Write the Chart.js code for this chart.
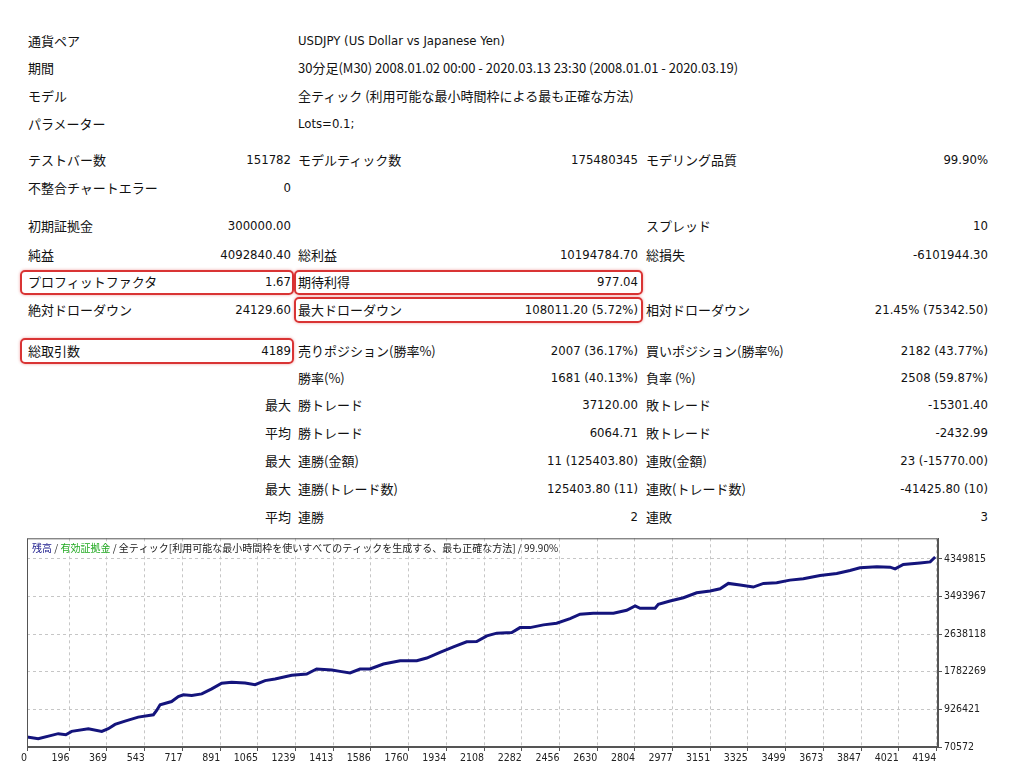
<!DOCTYPE html>
<html lang="ja">
<head>
<meta charset="utf-8">
<title>ストラテジーテスター レポート</title>
<script src="https://cdn.jsdelivr.net/npm/chart.js@4.4.0/dist/chart.umd.min.js"></script>
<style>
  html, body { margin: 0; padding: 0; background: #fff; }
  body {
    width: 1024px; height: 776px; position: relative; overflow: hidden;
    font-family: "DejaVu Sans Condensed", "DejaVu Sans", "Noto Sans CJK JP", sans-serif;
    color: #111;
  }
  .t { position: absolute; line-height: 18px; height: 18px; white-space: nowrap; font-size: 13px; }
  .jp { font-family: "Noto Sans CJK JP", sans-serif; font-size: 13px; }
  .box {
    position: absolute; box-sizing: border-box;
    border: 2px solid #d93434; border-radius: 5px;
    box-shadow: 0 0 3px rgba(220, 40, 40, .45);
  }
  #chartWrap { position: absolute; left: 0; top: 530px; width: 1024px; height: 246px; }
</style>
</head>
<body>
<div id="report"></div>
<div id="chartWrap"><canvas id="balanceChart"></canvas></div>

<script>
// ### dados do grafico (numero da operacao -> saldo)
const xTicks = [0, 196, 369, 543, 717, 891, 1065, 1239, 1413, 1586, 1760, 1934, 2108,
  2282, 2456, 2630, 2804, 2977, 3151, 3325, 3499, 3673, 3847, 4021, 4194];
const yTicks = [70572, 926421, 1782269, 2638118, 3493967, 4349815];

const tradeNo = [0, 52, 144, 179, 206, 283, 345, 375, 406, 452, 513, 583, 598, 614, 667,
  698, 721, 760, 806, 852, 898, 944, 1006, 1052, 1098, 1144, 1221, 1290, 1336, 1406,
  1444, 1490, 1536, 1582, 1644, 1721, 1798, 1844, 1905, 1967, 2028, 2074, 2121, 2167,
  2236, 2274, 2320, 2382, 2443, 2505, 2551, 2612, 2705, 2766, 2805, 2828, 2897, 2912,
  2966, 3028, 3089, 3151, 3197, 3235, 3289, 3350, 3397, 3458, 3519, 3581, 3658, 3735,
  3796, 3842, 3920, 3981, 4004, 4042, 4119, 4166, 4189];
const balance = [300000, 261000, 374000, 350000, 426000, 487000, 426000, 487000, 584000,
  659000, 750000, 804000, 901000, 1030000, 1105000, 1218000, 1257000, 1241000, 1279000,
  1393000, 1520000, 1542000, 1528000, 1490000, 1581000, 1619000, 1701000, 1732000,
  1845000, 1823000, 1791000, 1755000, 1845000, 1845000, 1959000, 2033000, 2033000,
  2095000, 2221000, 2350000, 2464000, 2470000, 2599000, 2661000, 2674000, 2787000,
  2787000, 2849000, 2887000, 2992000, 3091000, 3113000, 3113000, 3181000, 3279000,
  3227000, 3227000, 3317000, 3392000, 3466000, 3580000, 3618000, 3670000, 3792000,
  3754000, 3709000, 3792000, 3806000, 3867000, 3897000, 3974000, 4019000, 4087000,
  4146000, 4169000, 4162000, 4123000, 4223000, 4259000, 4282000, 4392840];

const captionParts = ['残高', ' / ', '有効証拠金',
  ' / 全ティック[利用可能な最小時間枠を使いすべてのティックを生成する、最も正確な方法] / 99.90%'];
const captionColors = ['#1a1a8c', '#333', '#22aa22', '#222'];

// ### texto do relatorio
const headerRows = [
  ['通貨ペア', 'USDJPY (US Dollar vs Japanese Yen)'],
  ['期間', '30分足(M30) 2008.01.02 00:00 - 2020.03.13 23:30 (2008.01.01 - 2020.03.19)'],
  ['モデル', '全ティック (利用可能な最小時間枠による最も正確な方法)'],
  ['パラメーター', 'Lots=0.1;']
];
const statRows = [
  ['テストバー数', '151782', 'モデルティック数', '175480345', 'モデリング品質', '99.90%'],
  ['不整合チャートエラー', '0', '', '', '', ''],
  ['初期証拠金', '300000.00', '', '', 'スプレッド', '10'],
  ['純益', '4092840.40', '総利益', '10194784.70', '総損失', '-6101944.30'],
  ['プロフィットファクタ', '1.67', '期待利得', '977.04', '', ''],
  ['絶対ドローダウン', '24129.60', '最大ドローダウン', '108011.20 (5.72%)', '相対ドローダウン', '21.45% (75342.50)'],
  ['総取引数', '4189', '売りポジション(勝率%)', '2007 (36.17%)', '買いポジション(勝率%)', '2182 (43.77%)'],
  ['', '', '勝率(%)', '1681 (40.13%)', '負率 (%)', '2508 (59.87%)'],
  ['', '最大', '勝トレード', '37120.00', '敗トレード', '-15301.40'],
  ['', '平均', '勝トレード', '6064.71', '敗トレード', '-2432.99'],
  ['', '最大', '連勝(金額)', '11 (125403.80)', '連敗(金額)', '23 (-15770.00)'],
  ['', '最大', '連勝(トレード数)', '125403.80 (11)', '連敗(トレード数)', '-41425.80 (10)'],
  ['', '平均', '連勝', '2', '連敗', '3']
];

// ### layout do relatorio
const headerY = [41, 68, 96, 124];
const statY = [160, 188, 226, 255, 282, 310, 351, 378, 405, 433, 461, 489, 517];
const colLeft = [28, 298, 646];     // inicio dos rotulos
const colRight = [291, 638, 988];   // fim dos valores
const boxes = [[20, 270, 274, 25], [294, 270, 349, 25], [294, 297, 349, 26], [20, 338, 274, 26]];

const report = document.getElementById('report');

function addText(txt, y, left, right) {
  if (!txt) return;
  const d = document.createElement('div');
  d.className = /[^\x00-\x7F]/.test(txt) ? 't jp' : 't';
  d.textContent = txt;
  d.style.top = (y - 9) + 'px';
  if (left != null) d.style.left = left + 'px';
  else d.style.right = (1024 - right) + 'px';
  report.appendChild(d);
}

headerRows.forEach((r, i) => {
  addText(r[0], headerY[i], colLeft[0]);
  addText(r[1], headerY[i], colLeft[1]);
});

statRows.forEach((r, i) => {
  for (let c = 0; c < 3; c++) {
    addText(r[c * 2], statY[i], colLeft[c]);
    addText(r[c * 2 + 1], statY[i], null, colRight[c]);
  }
});

boxes.forEach(b => {
  const d = document.createElement('div');
  d.className = 'box';
  d.style.left = b[0] + 'px';
  d.style.top = b[1] + 'px';
  d.style.width = b[2] + 'px';
  d.style.height = b[3] + 'px';
  report.appendChild(d);
});

// ### plugins: moldura e legenda do grafico
const frame = {
  id: 'frame',
  afterDatasetsDraw(chart) {
    const { ctx, chartArea: a } = chart;
    ctx.save();
    ctx.strokeStyle = '#555';
    ctx.lineWidth = 1;
    ctx.strokeRect(a.left + 0.5, a.top + 0.5, a.right - a.left - 1, a.bottom - a.top - 1);
    ctx.restore();
  }
};

const caption = {
  id: 'caption',
  afterDraw(chart) {
    const { ctx, chartArea: a } = chart;
    ctx.save();
    ctx.font = '10px "Noto Sans CJK JP", sans-serif';
    ctx.textBaseline = 'middle';
    let x = a.left + 5;
    const y = a.top + 10;
    captionParts.forEach((txt, i) => {
      ctx.fillStyle = captionColors[i];
      ctx.fillText(txt, x, y);
      x += ctx.measureText(txt).width;
    });
    ctx.restore();
  }
};

const tickFont = { family: '"DejaVu Sans Condensed", "Liberation Sans", sans-serif', size: 10.5 };

new Chart(document.getElementById('balanceChart'), {
  type: 'line',
  data: {
    datasets: [{
      data: tradeNo.map((t, i) => ({ x: t, y: balance[i] })),
      borderColor: '#14147c',
      borderWidth: 3,
      pointRadius: 0,
      tension: 0,
      fill: false
    }]
  },
  options: {
    responsive: true,
    maintainAspectRatio: false,
    animation: false,
    layout: { padding: { left: 27, top: 7, right: 0, bottom: 0 } },
    plugins: { legend: { display: false }, tooltip: { enabled: false } },
    scales: {
      x: {
        type: 'linear',
        min: 0,
        max: 4202,
        afterBuildTicks: s => { s.ticks = xTicks.map(v => ({ value: v })); },
        afterFit: s => { s.height = 29; },
        grid: { color: '#c6c6c6', tickColor: '#555', tickLength: 4 },
        border: { color: '#555', dash: [3, 3] },
        ticks: {
          autoSkip: false, maxRotation: 0, align: 'end', padding: 1,
          color: '#222', font: tickFont,
          callback: v => String(v)
        }
      },
      y: {
        position: 'right',
        min: 70572,
        max: 4818500,
        afterBuildTicks: s => { s.ticks = yTicks.map(v => ({ value: v })); },
        afterFit: s => { s.width = 86; },
        grid: { color: '#c6c6c6', tickColor: '#555', tickLength: 4 },
        border: { color: '#555', dash: [3, 3] },
        ticks: {
          padding: 2, color: '#222', font: tickFont,
          callback: v => String(v)
        }
      }
    }
  },
  plugins: [frame, caption]
});
</script>
</body>
</html>
